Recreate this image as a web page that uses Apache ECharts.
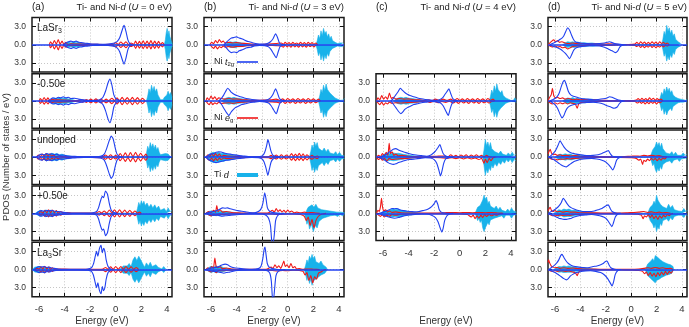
<!DOCTYPE html>
<html>
<head>
<meta charset="utf-8">
<script src="https://cdn.jsdelivr.net/npm/echarts@6/dist/echarts.min.js"></script>
<style>
  html, body { margin: 0; padding: 0; background: #fff; }
  #main { width: 689px; height: 327px; }
</style>
</head>
<body>
<div id="main"></div>
<script>
// energy grid / tick values
var xTicks = [-6, -4, -2, 0, 2, 4];
var yTicks = [-3, 0, 3];
var colU = ['0', '3', '4', '5'];
var colTags = ['(a)', '(b)', '(c)', '(d)'];

// ---- (a) U = 0 eV : spin up == spin down ----
var a1_t2g = [[-4.1,0],[-3.9,0.3],[-3.7,0.5],[-3.5,0.6],[-3.3,0.45],[-3.1,0.6],[-2.9,0.4],[-2.7,0.35],[-2.4,0.25],[-2.1,0.2],[-1.8,0.12],[-1.4,0.1],[-1.0,0.08],[-0.6,0.12],[-0.3,0.2],[-0.1,0.3],[0.1,0.5],[0.3,1.1],[0.5,2.4],[0.65,3.2],[0.8,2.2],[0.95,0.8],[1.1,0.2],[1.3,0]];
var a1_eg = [[-5.2,0],[-5.1,0.5],[-4.95,0.05],[-4.8,0.7],[-4.65,0.1],[-4.5,0.85],[-4.35,0.1],[-4.2,0.6],[-4.05,0.05],[-3.9,0.4],[-3.75,0.05],[-3.5,0.15],[-3.0,0.1],[-2.5,0.1],[-2.0,0.08],[-1.0,0.05],[-0.2,0.1],[0.0,0.35],[0.2,0.05],[0.4,0.45],[0.6,0.1],[0.8,0.5],[1.0,0.05],[1.2,0.3],[1.4,0.05],[1.55,0.6],[1.7,0.05],[1.85,0.55],[2.0,0.05],[2.15,0.65],[2.3,0.05],[2.45,0.6],[2.6,0.05],[2.75,0.7],[2.9,0.05],[3.05,0.6],[3.2,0.05],[3.35,0.55],[3.5,0.05],[3.65,0.35],[3.8,0]];
var a1_ti = [[-4.1,0],[-3.9,0.3],[-3.7,0.45],[-3.5,0.3],[-3.3,0.5],[-3.1,0.35],[-2.9,0.4],[-2.7,0.2],[-2.4,0.15],[-2.1,0.05],[-1.8,0],[3.8,0],[3.88,0.8],[3.95,2.0],[4.02,2.7],[4.09,1.6],[4.16,2.3],[4.23,1.4],[4.3,0.9],[4.37,0.4],[4.45,0.2]];

var a2_t2g = [[-5.3,0],[-5.1,0.3],[-4.9,0.5],[-4.7,0.4],[-4.5,0.6],[-4.3,0.5],[-4.1,0.7],[-3.9,0.5],[-3.7,0.6],[-3.5,0.4],[-3.2,0.45],[-2.9,0.3],[-2.6,0.2],[-2.3,0.1],[-1.9,0.08],[-1.5,0.1],[-1.2,0.25],[-1.0,0.6],[-0.8,1.6],[-0.6,3.0],[-0.45,3.6],[-0.3,2.6],[-0.15,1.0],[0.0,0.4],[0.2,0.15],[0.4,0]];
var a2_eg = [[-6.0,0],[-5.9,0.4],[-5.75,0.05],[-5.6,0.55],[-5.45,0.1],[-5.3,0.5],[-5.15,0.05],[-5.0,0.3],[-4.8,0.15],[-4.5,0.2],[-4.0,0.15],[-3.5,0.1],[-3.0,0.08],[-2.6,0.2],[-2.45,0.05],[-2.3,0.25],[-2.15,0.05],[-1.95,0.3],[-1.75,0.05],[-1.55,0.35],[-1.35,0.05],[-1.15,0.3],[-0.95,0.05],[-0.75,0.3],[-0.55,0.05],[-0.3,0.45],[-0.1,0.05],[0.1,0.5],[0.3,0.05],[0.5,0.6],[0.7,0.05],[0.9,0.55],[1.1,0.05],[1.3,0.6],[1.5,0.05],[1.7,0.55],[1.9,0.05],[2.1,0.45],[2.3,0]];
var a2_ti = [[-5.2,0],[-5.0,0.3],[-4.8,0.5],[-4.6,0.4],[-4.4,0.55],[-4.2,0.4],[-4.0,0.5],[-3.8,0.35],[-3.5,0.3],[-3.2,0.1],[-3.0,0],[2.4,0],[2.5,0.8],[2.6,2.0],[2.7,1.3],[2.8,2.6],[2.9,1.7],[3.0,2.4],[3.1,1.5],[3.2,2.0],[3.3,1.0],[3.4,0.6],[3.5,0.2],[3.6,0.5],[3.7,0.2],[3.8,0.6],[3.9,0.3],[4.0,1.0],[4.1,1.6],[4.2,1.0],[4.3,1.4],[4.4,0.6]];

var a3_t2g = [[-6.2,0],[-6.0,0.3],[-5.8,0.5],[-5.6,0.35],[-5.4,0.6],[-5.2,0.45],[-5.0,0.55],[-4.8,0.4],[-4.6,0.5],[-4.4,0.3],[-4.1,0.35],[-3.8,0.2],[-3.4,0.15],[-3.0,0.1],[-2.5,0.05],[-1.8,0.05],[-1.2,0.15],[-0.9,0.5],[-0.7,1.5],[-0.5,2.8],[-0.35,3.5],[-0.2,3.0],[-0.05,1.6],[0.1,0.5],[0.3,0.1],[0.5,0]];
var a3_eg = [[-6.2,0],[-6.05,0.35],[-5.9,0.05],[-5.75,0.5],[-5.6,0.1],[-5.45,0.6],[-5.3,0.1],[-5.15,0.55],[-5.0,0.1],[-4.85,0.4],[-4.7,0.05],[-4.5,0.2],[-4.2,0.1],[-3.5,0.05],[-2.0,0.05],[-1.0,0.1],[-0.8,0.35],[-0.6,0.05],[-0.4,0.4],[-0.2,0.05],[0.0,0.3],[0.15,0.05],[0.35,0.6],[0.55,0.05],[0.75,0.7],[0.95,0.05],[1.15,0.75],[1.35,0.05],[1.55,0.8],[1.75,0.05],[1.95,0.65],[2.15,0.05],[2.35,0.5],[2.5,0]];
var a3_ti = [[-5.8,0],[-5.6,0.4],[-5.4,0.6],[-5.2,0.4],[-5.0,0.65],[-4.8,0.5],[-4.6,0.6],[-4.4,0.4],[-4.2,0.5],[-4.0,0.3],[-3.7,0.25],[-3.4,0.1],[-3.1,0],[2.3,0],[2.4,0.6],[2.5,1.8],[2.6,1.2],[2.7,2.4],[2.8,1.6],[2.9,2.2],[3.0,1.4],[3.1,2.0],[3.2,1.2],[3.3,1.6],[3.4,0.8],[3.5,0.4],[3.6,0.2],[3.7,0.5],[3.8,0.2],[3.9,0.6],[4.0,0.3],[4.1,0.5],[4.2,0.2],[4.3,0]];

var a4_t2g = [[-6.2,0],[-6.0,0.3],[-5.8,0.45],[-5.6,0.35],[-5.4,0.5],[-5.2,0.4],[-5.0,0.5],[-4.8,0.35],[-4.5,0.3],[-4.2,0.2],[-3.8,0.1],[-3.3,0.05],[-2.5,0.05],[-1.8,0.1],[-1.5,0.3],[-1.35,0.9],[-1.2,2.0],[-1.05,2.8],[-0.95,2.6],[-0.8,3.7],[-0.65,3.2],[-0.5,1.6],[-0.35,0.5],[-0.15,0.15],[0.1,0]];
var a4_eg = [[-6.0,0],[-5.85,0.3],[-5.7,0.05],[-5.55,0.5],[-5.4,0.1],[-5.25,0.6],[-5.1,0.1],[-4.95,0.55],[-4.8,0.1],[-4.65,0.45],[-4.5,0.05],[-4.3,0.3],[-4.1,0.05],[-3.8,0.15],[-3.4,0.05],[-2.5,0.05],[-1.5,0.1],[-1.3,0.3],[-1.1,0.05],[-0.9,0.4],[-0.7,0.05],[-0.5,0.55],[-0.3,0.05],[-0.1,0.6],[0.1,0.05],[0.3,0.6],[0.5,0.05],[0.7,0.55],[0.9,0.05],[1.1,0.5],[1.3,0.05],[1.5,0.4],[1.7,0.05],[1.85,0.2],[2.0,0]];
var a4_ti = [[-6.3,0],[-6.1,0.3],[-5.9,0.5],[-5.7,0.3],[-5.5,0.55],[-5.3,0.35],[-5.1,0.5],[-4.9,0.3],[-4.6,0.2],[-4.3,0.1],[-4.0,0],[1.6,0],[1.7,0.8],[1.8,1.8],[1.9,1.2],[2.0,2.1],[2.1,1.5],[2.2,2.0],[2.3,1.3],[2.45,1.7],[2.6,1.0],[2.75,1.5],[2.9,0.9],[3.05,1.4],[3.2,0.8],[3.35,1.2],[3.5,0.5],[3.65,0.3],[3.8,0.8],[3.95,0.3],[4.1,0.9],[4.25,0.3],[4.4,0.5]];

var a5_t2g = [[-6.4,0],[-6.2,0.3],[-6.0,0.5],[-5.8,0.4],[-5.6,0.5],[-5.4,0.35],[-5.2,0.4],[-5.0,0.25],[-4.8,0.2],[-4.5,0.1],[-4.0,0.05],[-3.0,0.05],[-2.2,0.1],[-1.9,0.3],[-1.75,0.9],[-1.6,2.2],[-1.5,3.0],[-1.4,2.2],[-1.28,3.4],[-1.15,4.0],[-1.05,2.8],[-0.95,3.5],[-0.85,3.0],[-0.75,1.6],[-0.6,0.5],[-0.4,0.1],[-0.2,0]];
var a5_eg = [[-6.3,0],[-6.15,0.2],[-6.0,0.05],[-5.85,0.45],[-5.7,0.1],[-5.55,0.55],[-5.4,0.1],[-5.25,0.4],[-5.1,0.05],[-4.95,0.3],[-4.8,0.05],[-4.5,0.1],[-3.5,0.05],[-2.0,0.05],[-1.0,0.1],[-0.8,0.35],[-0.6,0.05],[-0.4,0.45],[-0.2,0.05],[0.0,0.5],[0.2,0.05],[0.4,0.5],[0.6,0.05],[0.8,0.5],[1.0,0.05],[1.2,0.45],[1.4,0.05],[1.6,0.35],[1.8,0]];
var a5_ti = [[-6.5,0],[-6.35,0.4],[-6.2,0.7],[-6.05,0.5],[-5.9,0.7],[-5.75,0.4],[-5.6,0.55],[-5.45,0.3],[-5.2,0.3],[-5.0,0.15],[-4.8,0],[0.3,0],[0.45,0.3],[0.6,0.6],[0.75,0.9],[0.9,0.6],[1.05,1.0],[1.2,0.5],[1.35,1.6],[1.5,2.1],[1.65,1.5],[1.8,2.2],[1.95,1.6],[2.1,1.0],[2.25,0.4],[2.4,1.1],[2.55,0.6],[2.7,1.2],[2.85,0.5],[3.0,0.2],[3.15,0.8],[3.3,0.4],[3.45,0.7],[3.6,0.1],[3.75,0.5],[3.9,0.1],[4.0,0]];

// ---- (b) U = 3 eV ----
var b1_t2g_up = [[-5.0,0],[-4.8,0.4],[-4.6,0.8],[-4.4,1.1],[-4.2,1.2],[-4.0,1.3],[-3.8,1.1],[-3.6,1.0],[-3.4,0.8],[-3.2,0.6],[-3.0,0.5],[-2.7,0.3],[-2.4,0.15],[-2.0,0.1],[-1.6,0.2],[-1.35,0.5],[-1.15,1.0],[-0.95,1.8],[-0.8,1.2],[-0.65,0.3],[-0.45,0.05],[-0.2,0]];
var b1_t2g_dn = [[-5.0,0],[-4.8,0.5],[-4.6,1.0],[-4.4,1.3],[-4.2,1.2],[-4.0,1.3],[-3.8,1.0],[-3.5,0.8],[-3.2,0.5],[-2.9,0.4],[-2.6,0.2],[-2.2,0.1],[-1.8,0.15],[-1.5,0.35],[-1.3,0.8],[-1.1,1.5],[-0.9,2.15],[-0.75,1.2],[-0.6,0.3],[-0.4,0.05],[-0.2,0]];
var b1_eg_up = [[-6.1,0],[-5.95,0.4],[-5.8,0.2],[-5.65,0.7],[-5.5,0.3],[-5.35,0.85],[-5.2,0.4],[-5.05,0.6],[-4.9,0.3],[-4.6,0.4],[-4.3,0.3],[-4.0,0.35],[-3.6,0.25],[-3.2,0.2],[-2.8,0.1],[-2.2,0.05],[-1.5,0.1],[-0.9,0.2],[-0.5,0.3],[-0.35,0.05],[-0.2,0.4],[-0.05,0.1],[0.1,0.35],[0.25,0.05],[0.4,0.4],[0.55,0.1],[0.7,0.3],[0.85,0.05],[1.0,0.4],[1.15,0.1],[1.3,0.35],[1.45,0.05],[1.6,0.4],[1.75,0.1],[1.9,0.35],[2.05,0.05],[2.2,0.3],[2.35,0]];
var b1_eg_dn = [[-6.1,0],[-5.95,0.3],[-5.8,0.6],[-5.65,0.2],[-5.5,0.7],[-5.35,0.3],[-5.2,0.5],[-5.05,0.2],[-4.9,0.4],[-4.6,0.3],[-4.3,0.4],[-4.0,0.3],[-3.6,0.3],[-3.2,0.15],[-2.8,0.1],[-2.2,0.05],[-1.5,0.1],[-0.9,0.15],[-0.5,0.2],[-0.35,0.4],[-0.2,0.05],[-0.05,0.35],[0.1,0.1],[0.25,0.4],[0.4,0.05],[0.55,0.35],[0.7,0.1],[0.85,0.4],[1.0,0.05],[1.15,0.35],[1.3,0.1],[1.45,0.4],[1.6,0.05],[1.75,0.3],[1.9,0.1],[2.05,0.35],[2.2,0.05],[2.35,0]];
var b1_ti_up = [[-4.9,0],[-4.7,0.3],[-4.5,0.5],[-4.3,0.4],[-4.1,0.5],[-3.9,0.4],[-3.6,0.3],[-3.3,0.2],[-3.0,0.1],[-2.7,0],[2.2,0],[2.3,0.6],[2.4,1.6],[2.5,1.0],[2.6,2.3],[2.7,1.5],[2.8,2.7],[2.9,1.8],[3.0,2.2],[3.1,1.3],[3.2,1.8],[3.3,1.0],[3.4,1.4],[3.5,0.7],[3.6,1.0],[3.7,0.4],[3.8,0.6],[3.9,0.2],[4.0,0.05],[4.1,0.3],[4.2,0.05],[4.3,0.3],[4.4,0.1]];
var b1_ti_dn = [[-4.9,0],[-4.7,0.25],[-4.5,0.45],[-4.3,0.4],[-4.1,0.5],[-3.9,0.35],[-3.6,0.3],[-3.3,0.2],[-3.0,0.1],[-2.7,0],[2.2,0],[2.3,0.7],[2.4,1.8],[2.5,1.2],[2.6,2.5],[2.7,1.6],[2.8,2.7],[2.9,1.7],[3.0,2.3],[3.1,1.4],[3.2,1.9],[3.3,1.1],[3.4,1.3],[3.5,0.6],[3.6,0.9],[3.7,0.4],[3.8,0.5],[3.9,0.2],[4.0,0.05],[4.1,0.3],[4.2,0.05],[4.3,0.3],[4.4,0.1]];

var b2_t2g_up = [[-5.4,0],[-5.2,0.4],[-5.0,1.0],[-4.85,1.6],[-4.7,2.1],[-4.55,1.8],[-4.4,1.4],[-4.2,1.1],[-4.0,0.9],[-3.7,0.7],[-3.4,0.5],[-3.1,0.35],[-2.8,0.25],[-2.4,0.15],[-2.0,0.1],[-1.6,0.2],[-1.35,0.5],[-1.15,1.1],[-0.95,2.0],[-0.8,1.3],[-0.65,0.4],[-0.45,0.1],[-0.2,0]];
var b2_t2g_dn = [[-5.4,0],[-5.2,0.5],[-5.0,1.2],[-4.8,1.9],[-4.6,2.4],[-4.45,1.9],[-4.3,1.5],[-4.1,1.1],[-3.9,0.9],[-3.6,0.6],[-3.3,0.45],[-3.0,0.3],[-2.6,0.2],[-2.2,0.1],[-1.8,0.15],[-1.5,0.35],[-1.3,0.8],[-1.1,1.5],[-0.9,2.1],[-0.75,1.2],[-0.6,0.3],[-0.4,0.05],[-0.2,0]];
var b2_eg_up = [[-6.4,0],[-6.3,0.5],[-6.15,0.2],[-6.0,0.8],[-5.85,0.3],[-5.7,0.7],[-5.55,0.2],[-5.4,0.5],[-5.2,0.4],[-4.9,0.3],[-4.6,0.45],[-4.3,0.3],[-4.0,0.35],[-3.6,0.2],[-3.2,0.2],[-2.8,0.1],[-2.3,0.1],[-1.8,0.15],[-1.3,0.2],[-0.9,0.3],[-0.6,0.1],[-0.4,0.35],[-0.2,0.05],[0.0,0.4],[0.2,0.1],[0.4,0.35],[0.6,0.05],[0.8,0.4],[1.0,0.1],[1.2,0.35],[1.4,0.05],[1.6,0.4],[1.8,0.1],[2.0,0.35],[2.2,0.05],[2.4,0.3],[2.55,0]];
var b2_eg_dn = [[-6.4,0],[-6.3,0.3],[-6.15,0.6],[-6.0,0.2],[-5.85,0.6],[-5.7,0.3],[-5.55,0.5],[-5.4,0.2],[-5.2,0.4],[-4.9,0.35],[-4.6,0.3],[-4.3,0.4],[-4.0,0.3],[-3.6,0.2],[-3.2,0.15],[-2.8,0.1],[-2.3,0.05],[-1.8,0.1],[-1.3,0.15],[-0.9,0.2],[-0.6,0.35],[-0.4,0.05],[-0.2,0.4],[0.0,0.1],[0.2,0.35],[0.4,0.05],[0.6,0.4],[0.8,0.1],[1.0,0.35],[1.2,0.05],[1.4,0.4],[1.6,0.1],[1.8,0.35],[2.0,0.05],[2.2,0.3],[2.4,0.05],[2.55,0]];
var b2_ti_up = [[-5.2,0],[-5.0,0.3],[-4.8,0.5],[-4.6,0.6],[-4.4,0.5],[-4.2,0.6],[-4.0,0.45],[-3.7,0.4],[-3.4,0.3],[-3.1,0.2],[-2.8,0.1],[-2.5,0],[2.4,0],[2.5,0.8],[2.6,1.9],[2.7,1.3],[2.8,2.6],[2.9,1.7],[3.0,2.8],[3.1,1.9],[3.2,2.2],[3.3,1.3],[3.4,1.6],[3.5,0.9],[3.6,1.1],[3.7,0.5],[3.8,0.7],[3.9,0.3],[4.0,0.4],[4.1,0.1],[4.2,0.4],[4.3,0.15],[4.45,0.4]];
var b2_ti_dn = [[-5.2,0],[-5.0,0.3],[-4.8,0.45],[-4.6,0.55],[-4.4,0.45],[-4.2,0.55],[-3.9,0.4],[-3.6,0.35],[-3.3,0.25],[-3.0,0.15],[-2.7,0],[2.4,0],[2.5,0.9],[2.6,2.0],[2.7,1.4],[2.8,2.7],[2.9,1.8],[3.0,2.6],[3.1,1.7],[3.2,2.0],[3.3,1.2],[3.4,1.5],[3.5,0.8],[3.6,1.0],[3.7,0.4],[3.8,0.6],[3.9,0.2],[4.0,0.3],[4.1,0.1],[4.2,0.3],[4.3,0.1],[4.45,0.3]];

var b3_t2g_up = [[-6.4,0],[-6.2,0.3],[-6.0,0.5],[-5.8,0.6],[-5.6,0.8],[-5.4,0.9],[-5.2,0.85],[-5.0,0.7],[-4.8,0.6],[-4.5,0.5],[-4.2,0.4],[-3.9,0.3],[-3.5,0.2],[-3.1,0.1],[-2.6,0.05],[-2.2,0.1],[-1.95,0.3],[-1.8,0.8],[-1.65,1.9],[-1.55,2.9],[-1.45,2.2],[-1.3,0.9],[-1.15,0.3],[-0.9,0.1],[-0.6,0]];
var b3_t2g_dn = [[-6.4,0],[-6.2,0.4],[-6.0,0.6],[-5.8,0.8],[-5.6,0.9],[-5.4,0.8],[-5.2,0.7],[-5.0,0.6],[-4.7,0.5],[-4.4,0.4],[-4.1,0.3],[-3.7,0.2],[-3.3,0.1],[-2.8,0.05],[-2.3,0.1],[-2.0,0.3],[-1.85,0.8],[-1.7,1.8],[-1.55,3.0],[-1.45,2.1],[-1.3,0.8],[-1.15,0.3],[-0.9,0.1],[-0.6,0]];
var b3_eg_up = [[-6.4,0],[-6.25,0.4],[-6.1,0.1],[-5.95,0.55],[-5.8,0.15],[-5.65,0.6],[-5.5,0.2],[-5.35,0.5],[-5.2,0.1],[-5.0,0.3],[-4.7,0.2],[-4.3,0.15],[-3.8,0.1],[-3.0,0.05],[-2.2,0.05],[-1.5,0.1],[-1.3,0.3],[-1.1,0.05],[-0.9,0.35],[-0.7,0.05],[-0.5,0.4],[-0.3,0.05],[-0.1,0.35],[0.1,0.05],[0.3,0.6],[0.45,0.1],[0.6,0.5],[0.75,0.1],[0.9,0.65],[1.05,0.1],[1.2,0.55],[1.35,0.05],[1.5,0.4],[1.7,0.05],[1.9,0.3],[2.1,0.05],[2.3,0.2],[2.45,0]];
var b3_eg_dn = [[-6.4,0],[-6.25,0.3],[-6.1,0.55],[-5.95,0.15],[-5.8,0.6],[-5.65,0.2],[-5.5,0.55],[-5.35,0.15],[-5.2,0.4],[-5.0,0.15],[-4.7,0.25],[-4.3,0.15],[-3.8,0.1],[-3.0,0.05],[-2.2,0.05],[-1.5,0.1],[-1.3,0.25],[-1.1,0.05],[-0.9,0.3],[-0.7,0.05],[-0.5,0.35],[-0.3,0.05],[-0.1,0.3],[0.1,0.05],[0.3,0.5],[0.45,0.1],[0.6,0.6],[0.75,0.15],[0.9,0.5],[1.05,0.1],[1.2,0.6],[1.35,0.1],[1.5,0.45],[1.7,0.1],[1.9,0.35],[2.1,0.05],[2.3,0.25],[2.45,0]];
var b3_ti_up = [[-6.4,0],[-6.2,0.4],[-6.0,0.7],[-5.8,0.8],[-5.6,0.65],[-5.4,0.8],[-5.2,0.6],[-5.0,0.7],[-4.8,0.5],[-4.5,0.45],[-4.2,0.3],[-3.9,0.2],[-3.5,0.1],[-3.1,0],[1.7,0],[1.8,0.9],[1.9,2.0],[2.0,1.4],[2.1,2.5],[2.2,1.8],[2.3,2.4],[2.4,1.5],[2.55,1.7],[2.7,1.0],[2.85,1.5],[3.0,0.9],[3.15,1.3],[3.3,0.7],[3.45,1.0],[3.6,0.5],[3.75,0.9],[3.9,0.4],[4.05,0.8],[4.2,0.3],[4.35,0.6],[4.45,0.2]];
var b3_ti_dn = [[-6.4,0],[-6.2,0.45],[-6.0,0.75],[-5.8,0.9],[-5.6,0.7],[-5.4,0.85],[-5.2,0.65],[-5.0,0.7],[-4.8,0.5],[-4.5,0.45],[-4.2,0.3],[-3.9,0.2],[-3.5,0.1],[-3.1,0],[1.7,0],[1.8,1.0],[1.9,2.2],[2.0,1.5],[2.1,2.5],[2.2,1.7],[2.3,2.2],[2.4,1.4],[2.55,1.6],[2.7,0.9],[2.85,1.4],[3.0,0.8],[3.15,1.2],[3.3,0.6],[3.45,0.9],[3.6,0.4],[3.75,0.8],[3.9,0.3],[4.05,0.7],[4.2,0.3],[4.35,0.5],[4.45,0.2]];

var b4_t2g_up = [[-6.4,0],[-6.1,0.2],[-5.8,0.3],[-5.5,0.5],[-5.3,0.7],[-5.1,0.9],[-4.9,0.85],[-4.7,0.9],[-4.5,0.75],[-4.2,0.6],[-3.9,0.45],[-3.6,0.35],[-3.3,0.25],[-3.0,0.15],[-2.6,0.1],[-2.3,0.3],[-2.1,0.7],[-1.95,1.6],[-1.8,3.4],[-1.7,2.4],[-1.6,1.0],[-1.45,0.4],[-1.3,0.2],[-1.0,0.1],[-0.6,0]];
var b4_t2g_dn = [[-6.4,0],[-6.1,0.2],[-5.8,0.35],[-5.5,0.3],[-5.2,0.45],[-4.9,0.4],[-4.6,0.35],[-4.2,0.25],[-3.8,0.2],[-3.3,0.1],[-2.6,0.05],[-2.0,0.1],[-1.7,0.3],[-1.5,0.8],[-1.35,2.0],[-1.25,4.6],[-1.15,5.0],[-1.05,3.5],[-0.95,1.2],[-0.8,0.4],[-0.6,0.1],[-0.3,0]];
var b4_eg_up = [[-6.4,0],[-6.2,0.3],[-6.0,0.1],[-5.8,0.5],[-5.65,0.2],[-5.55,1.3],[-5.45,0.3],[-5.3,0.6],[-5.1,0.2],[-4.8,0.3],[-4.4,0.15],[-3.9,0.1],[-3.0,0.05],[-2.2,0.05],[-1.5,0.1],[-1.2,0.5],[-1.05,0.2],[-0.9,0.8],[-0.75,0.3],[-0.6,0.6],[-0.45,0.2],[-0.3,0.5],[-0.15,0.15],[0.0,0.55],[0.15,0.2],[0.3,0.4],[0.5,0.1],[0.7,0.2],[1.0,0.1],[1.3,0.2],[1.6,0.1],[1.9,0.15],[2.2,0.05],[2.5,0]];
var b4_eg_dn = [[-6.4,0],[-6.2,0.2],[-6.0,0.4],[-5.8,0.15],[-5.6,0.3],[-5.4,0.1],[-5.1,0.2],[-4.6,0.1],[-3.5,0.05],[-2.0,0.05],[-1.2,0.1],[-0.8,0.2],[-0.4,0.15],[0.0,0.1],[0.5,0.1],[1.0,0.2],[1.3,0.5],[1.45,1.2],[1.6,0.6],[1.75,2.0],[1.9,1.0],[2.05,2.4],[2.2,1.2],[2.35,0.6],[2.5,0.3],[2.7,0.1],[3.0,0]];
var b4_ti_up = [[-6.4,0],[-6.2,0.3],[-6.0,0.4],[-5.8,0.3],[-5.6,0.45],[-5.4,0.3],[-5.1,0.35],[-4.8,0.25],[-4.4,0.2],[-4.0,0.1],[-3.6,0],[1.4,0],[1.5,0.6],[1.6,1.0],[1.75,0.7],[1.9,1.4],[2.05,1.0],[2.2,1.5],[2.35,0.9],[2.5,1.1],[2.65,0.6],[2.8,0.9],[2.95,0.5],[3.1,0.7],[3.25,0.4],[3.4,0.7],[3.55,0.3],[3.7,0.6],[3.85,0.2],[4.0,0.5],[4.15,0.2],[4.3,0.4],[4.45,0.1]];
var b4_ti_dn = [[-6.4,0],[-6.2,0.3],[-6.0,0.45],[-5.8,0.3],[-5.6,0.4],[-5.3,0.3],[-5.0,0.25],[-4.6,0.15],[-4.2,0.1],[-3.8,0],[1.3,0],[1.4,0.8],[1.5,1.8],[1.6,1.2],[1.7,2.6],[1.85,1.8],[2.0,3.0],[2.15,2.0],[2.3,2.4],[2.45,1.3],[2.6,1.5],[2.75,0.8],[2.9,1.1],[3.05,0.6],[3.2,0.9],[3.35,0.4],[3.5,0.7],[3.7,0.3],[3.9,0.5],[4.1,0.2],[4.3,0.4],[4.45,0.1]];

var b5_t2g_up = [[-6.4,0],[-6.1,0.2],[-5.8,0.3],[-5.5,0.4],[-5.3,0.6],[-5.1,0.8],[-4.9,0.9],[-4.7,0.8],[-4.5,0.5],[-4.2,0.3],[-3.8,0.2],[-3.3,0.1],[-2.8,0.05],[-2.3,0.15],[-2.1,0.5],[-1.95,1.8],[-1.85,3.3],[-1.78,3.7],[-1.7,2.5],[-1.6,1.0],[-1.45,0.4],[-1.2,0.15],[-0.9,0.05],[-0.5,0]];
var b5_t2g_dn = [[-6.4,0],[-6.1,0.2],[-5.8,0.3],[-5.5,0.35],[-5.2,0.5],[-5.0,0.6],[-4.8,0.5],[-4.5,0.4],[-4.1,0.2],[-3.6,0.1],[-3.0,0.05],[-2.0,0.05],[-1.6,0.2],[-1.4,0.6],[-1.28,2.0],[-1.2,4.6],[-1.12,5.0],[-1.02,3.0],[-0.92,1.0],[-0.75,0.3],[-0.5,0.1],[-0.2,0]];
var b5_eg_up = [[-6.4,0],[-6.25,0.3],[-6.1,0.1],[-5.95,0.5],[-5.82,0.2],[-5.7,1.9],[-5.6,0.5],[-5.45,0.3],[-5.3,0.5],[-5.1,0.15],[-4.8,0.25],[-4.4,0.1],[-3.5,0.05],[-2.5,0.05],[-1.6,0.1],[-1.3,0.4],[-1.15,0.2],[-1.0,0.8],[-0.85,0.3],[-0.7,0.6],[-0.55,0.2],[-0.4,0.9],[-0.3,1.4],[-0.2,0.5],[-0.05,0.8],[0.1,0.3],[0.25,1.0],[0.4,0.3],[0.55,0.5],[0.7,0.1],[0.9,0.15],[1.2,0.05],[1.6,0.1],[2.0,0.05],[2.5,0]];
var b5_eg_dn = [[-6.4,0],[-6.2,0.2],[-6.0,0.4],[-5.8,0.2],[-5.6,0.5],[-5.4,0.15],[-5.1,0.2],[-4.6,0.1],[-3.5,0.05],[-2.0,0.05],[-1.2,0.15],[-0.8,0.25],[-0.4,0.15],[0.0,0.2],[0.4,0.1],[0.9,0.15],[1.2,0.3],[1.35,0.9],[1.5,0.5],[1.65,1.8],[1.8,1.0],[1.95,2.2],[2.1,1.2],[2.25,1.6],[2.4,0.6],[2.6,0.4],[2.8,0.1],[3.0,0]];
var b5_ti_up = [[-6.4,0],[-6.2,0.3],[-6.0,0.55],[-5.8,0.4],[-5.6,0.6],[-5.4,0.4],[-5.2,0.5],[-5.0,0.3],[-4.7,0.2],[-4.4,0.1],[-4.0,0],[1.3,0],[1.4,0.7],[1.5,1.6],[1.6,1.1],[1.7,2.2],[1.8,1.7],[1.9,2.5],[2.0,1.8],[2.1,2.2],[2.2,1.3],[2.3,1.6],[2.45,1.0],[2.6,1.4],[2.75,0.8],[2.9,1.0],[3.0,0.4],[3.1,0]];
var b5_ti_dn = [[-6.4,0],[-6.2,0.3],[-6.0,0.5],[-5.8,0.35],[-5.6,0.55],[-5.4,0.35],[-5.1,0.35],[-4.8,0.2],[-4.4,0.1],[-4.0,0],[1.3,0],[1.4,0.8],[1.5,1.8],[1.6,1.2],[1.7,2.3],[1.8,1.6],[1.9,2.6],[2.0,1.9],[2.15,2.2],[2.3,1.4],[2.45,1.6],[2.6,0.9],[2.75,1.2],[2.9,0.6],[3.0,0.3],[3.1,0]];

// ---- (c) U = 4 eV ----
var c1_t2g_up = [[-5.4,0],[-5.2,0.4],[-5.0,1.0],[-4.8,1.6],[-4.65,2.1],[-4.5,1.8],[-4.3,1.4],[-4.1,1.1],[-3.9,0.9],[-3.6,0.7],[-3.3,0.5],[-3.0,0.35],[-2.7,0.25],[-2.3,0.15],[-1.9,0.1],[-1.6,0.2],[-1.35,0.5],[-1.15,1.1],[-0.95,1.7],[-0.85,2.0],[-0.7,1.2],[-0.55,0.4],[-0.35,0.1],[-0.1,0]];
var c1_t2g_dn = [[-5.4,0],[-5.2,0.5],[-5.0,1.1],[-4.8,1.7],[-4.6,2.1],[-4.45,1.8],[-4.3,1.4],[-4.1,1.1],[-3.9,0.9],[-3.6,0.6],[-3.3,0.45],[-3.0,0.3],[-2.6,0.2],[-2.2,0.1],[-1.8,0.15],[-1.5,0.35],[-1.3,0.8],[-1.1,1.6],[-0.9,2.4],[-0.75,1.3],[-0.6,0.4],[-0.4,0.1],[-0.2,0]];
var c1_eg_up = [[-6.5,0],[-6.4,0.5],[-6.25,0.2],[-6.1,0.9],[-5.95,0.3],[-5.8,0.7],[-5.65,0.3],[-5.5,1.3],[-5.35,0.4],[-5.2,0.6],[-5.0,0.3],[-4.7,0.4],[-4.4,0.3],[-4.0,0.35],[-3.6,0.2],[-3.2,0.2],[-2.8,0.1],[-2.4,0.2],[-2.2,0.05],[-1.9,0.3],[-1.6,0.1],[-1.3,0.3],[-1.0,0.1],[-0.7,0.3],[-0.45,0.05],[-0.2,0.4],[0.0,0.1],[0.2,0.35],[0.4,0.05],[0.6,0.4],[0.8,0.1],[1.0,0.35],[1.2,0.05],[1.4,0.4],[1.6,0.1],[1.8,0.35],[2.0,0.05],[2.2,0.4],[2.4,0.1],[2.6,0.3],[2.75,0]];
var c1_eg_dn = [[-6.5,0],[-6.4,0.3],[-6.25,0.6],[-6.1,0.2],[-5.95,0.7],[-5.8,0.3],[-5.65,0.5],[-5.5,0.2],[-5.3,0.4],[-5.0,0.3],[-4.7,0.35],[-4.3,0.3],[-3.9,0.25],[-3.5,0.2],[-3.0,0.1],[-2.6,0.05],[-2.3,0.25],[-2.0,0.05],[-1.7,0.3],[-1.4,0.1],[-1.1,0.25],[-0.8,0.05],[-0.5,0.35],[-0.3,0.1],[-0.1,0.4],[0.1,0.05],[0.3,0.35],[0.5,0.1],[0.7,0.4],[0.9,0.05],[1.1,0.35],[1.3,0.1],[1.5,0.4],[1.7,0.05],[1.9,0.3],[2.1,0.1],[2.3,0.35],[2.5,0.05],[2.7,0]];
var c1_ti_up = [[-5.2,0],[-5.0,0.3],[-4.8,0.5],[-4.6,0.6],[-4.4,0.5],[-4.2,0.6],[-4.0,0.45],[-3.7,0.4],[-3.4,0.3],[-3.1,0.2],[-2.8,0.1],[-2.5,0],[2.3,0],[2.4,0.7],[2.5,1.8],[2.6,1.2],[2.7,2.5],[2.8,1.6],[2.9,2.8],[3.0,1.9],[3.1,2.2],[3.2,1.3],[3.3,1.7],[3.4,0.9],[3.5,1.2],[3.6,0.5],[3.7,0.8],[3.8,0.3],[3.9,0.5],[4.0,0.1],[4.1,0.4],[4.2,0.1],[4.3,0.5],[4.45,0.2]];
var c1_ti_dn = [[-5.2,0],[-5.0,0.3],[-4.8,0.45],[-4.6,0.55],[-4.4,0.45],[-4.2,0.55],[-3.9,0.4],[-3.6,0.35],[-3.3,0.25],[-3.0,0.15],[-2.7,0],[2.3,0],[2.4,0.8],[2.5,1.9],[2.6,1.3],[2.7,2.6],[2.8,1.7],[2.9,2.7],[3.0,1.8],[3.1,2.1],[3.2,1.2],[3.3,1.5],[3.4,0.8],[3.5,1.0],[3.6,0.4],[3.7,0.6],[3.8,0.2],[3.9,0.4],[4.0,0.1],[4.1,0.3],[4.2,0.1],[4.3,0.4],[4.45,0.2]];

var c2_t2g_up = [[-6.3,0],[-6.0,0.2],[-5.8,0.4],[-5.6,0.7],[-5.4,1.0],[-5.2,1.3],[-5.0,1.4],[-4.8,1.2],[-4.6,1.0],[-4.3,0.8],[-4.0,0.6],[-3.7,0.45],[-3.4,0.35],[-3.0,0.25],[-2.6,0.15],[-2.3,0.3],[-2.1,0.6],[-1.9,1.0],[-1.7,1.6],[-1.55,2.1],[-1.45,1.5],[-1.3,0.6],[-1.1,0.2],[-0.8,0.05],[-0.5,0]];
var c2_t2g_dn = [[-6.3,0],[-6.0,0.3],[-5.8,0.6],[-5.6,0.9],[-5.4,1.1],[-5.2,1.2],[-5.0,1.1],[-4.8,0.9],[-4.5,0.7],[-4.2,0.5],[-3.9,0.4],[-3.5,0.3],[-3.1,0.2],[-2.7,0.1],[-2.3,0.15],[-2.0,0.4],[-1.8,1.0],[-1.65,2.0],[-1.5,3.1],[-1.4,2.4],[-1.25,1.0],[-1.1,0.3],[-0.8,0.05],[-0.5,0]];
var c2_eg_up = [[-6.5,0],[-6.35,0.3],[-6.2,0.1],[-6.05,0.6],[-5.9,0.2],[-5.75,0.8],[-5.62,0.3],[-5.52,2.3],[-5.42,0.6],[-5.3,0.9],[-5.15,0.3],[-5.0,0.5],[-4.8,0.2],[-4.5,0.3],[-4.1,0.15],[-3.6,0.1],[-3.0,0.05],[-2.4,0.1],[-1.8,0.15],[-1.2,0.2],[-0.9,0.05],[-0.7,0.4],[-0.5,0.1],[-0.3,0.3],[-0.1,0.05],[0.1,0.35],[0.3,0.1],[0.5,0.4],[0.7,0.05],[0.9,0.35],[1.1,0.1],[1.3,0.4],[1.5,0.1],[1.7,0.3],[1.9,0.05],[2.1,0.3],[2.3,0.05],[2.5,0]];
var c2_eg_dn = [[-6.5,0],[-6.35,0.4],[-6.2,0.15],[-6.05,0.5],[-5.9,0.2],[-5.7,0.6],[-5.5,0.2],[-5.3,0.4],[-5.0,0.3],[-4.6,0.25],[-4.2,0.2],[-3.7,0.1],[-3.0,0.05],[-2.2,0.05],[-1.5,0.1],[-1.0,0.2],[-0.6,0.1],[-0.3,0.25],[0.0,0.1],[0.3,0.3],[0.6,0.1],[0.9,0.3],[1.2,0.15],[1.5,0.4],[1.7,0.2],[1.9,1.0],[2.0,0.3],[2.15,0.9],[2.3,0.2],[2.45,0.6],[2.6,0.1],[2.8,0]];
var c2_ti_up = [[-6.2,0],[-6.0,0.4],[-5.8,0.6],[-5.6,0.7],[-5.4,0.55],[-5.2,0.7],[-5.0,0.6],[-4.8,0.65],[-4.5,0.5],[-4.2,0.4],[-3.9,0.3],[-3.5,0.2],[-3.1,0.1],[-2.8,0],[1.8,0],[1.9,1.2],[2.0,2.9],[2.1,1.9],[2.2,2.5],[2.3,1.6],[2.4,2.4],[2.5,1.4],[2.6,1.7],[2.75,0.9],[2.9,1.2],[3.05,0.6],[3.2,1.0],[3.35,0.5],[3.5,0.8],[3.65,0.3],[3.8,0.7],[3.95,0.3],[4.1,0.8],[4.25,0.3],[4.4,0.5]];
var c2_ti_dn = [[-6.2,0],[-6.0,0.3],[-5.8,0.5],[-5.6,0.6],[-5.4,0.5],[-5.2,0.6],[-4.9,0.5],[-4.6,0.4],[-4.3,0.3],[-3.9,0.2],[-3.5,0.1],[-3.1,0],[1.8,0],[1.9,1.4],[2.0,3.0],[2.1,2.0],[2.2,2.6],[2.3,1.7],[2.4,2.2],[2.5,1.3],[2.6,1.8],[2.75,1.0],[2.9,1.5],[3.05,0.8],[3.2,1.2],[3.35,0.6],[3.5,1.0],[3.65,0.4],[3.8,0.8],[3.95,0.3],[4.1,0.9],[4.25,0.4],[4.4,0.6]];

var c3_t2g_up = [[-6.3,0],[-6.0,0.2],[-5.7,0.4],[-5.5,0.6],[-5.3,0.8],[-5.1,0.75],[-4.9,0.8],[-4.7,0.6],[-4.4,0.45],[-4.1,0.35],[-3.8,0.3],[-3.5,0.25],[-3.2,0.3],[-2.9,0.45],[-2.6,0.6],[-2.4,0.8],[-2.2,1.1],[-2.0,1.6],[-1.85,2.1],[-1.72,1.5],[-1.6,0.6],[-1.45,0.2],[-1.2,0.05],[-0.8,0]];
var c3_t2g_dn = [[-6.3,0],[-6.0,0.3],[-5.7,0.5],[-5.4,0.7],[-5.1,0.8],[-4.8,0.7],[-4.5,0.5],[-4.2,0.35],[-3.8,0.25],[-3.4,0.15],[-3.0,0.1],[-2.6,0.1],[-2.2,0.3],[-1.9,0.7],[-1.7,1.4],[-1.55,2.3],[-1.4,3.1],[-1.3,2.5],[-1.18,1.2],[-1.0,0.4],[-0.8,0.1],[-0.5,0]];
var c3_eg_up = [[-6.5,0],[-6.4,0.5],[-6.3,0.3],[-6.2,1.1],[-6.12,2.5],[-6.05,1.2],[-5.95,0.4],[-5.8,0.6],[-5.65,0.2],[-5.5,0.4],[-5.3,0.15],[-5.0,0.25],[-4.6,0.1],[-4.0,0.05],[-3.0,0.05],[-2.0,0.05],[-1.2,0.1],[-0.6,0.15],[0.0,0.1],[0.5,0.15],[1.0,0.1],[1.5,0.15],[2.0,0.1],[2.5,0.15],[3.0,0.05],[3.4,0]];
var c3_eg_dn = [[-6.5,0],[-6.35,0.3],[-6.2,0.5],[-6.05,0.2],[-5.9,0.6],[-5.7,0.3],[-5.5,0.5],[-5.3,0.2],[-5.0,0.3],[-4.6,0.15],[-4.0,0.1],[-3.0,0.05],[-2.0,0.05],[-1.0,0.1],[0.0,0.1],[0.6,0.2],[0.9,0.6],[1.05,0.3],[1.2,0.9],[1.35,0.4],[1.5,0.8],[1.65,0.3],[1.8,0.7],[1.95,0.2],[2.1,0.5],[2.3,0.2],[2.5,0.4],[2.7,0.2],[2.9,0.3],[3.1,0.1],[3.3,0]];
var c3_ti_up = [[-6.2,0],[-6.0,0.3],[-5.8,0.5],[-5.6,0.4],[-5.4,0.6],[-5.2,0.7],[-5.0,0.6],[-4.8,0.7],[-4.6,0.5],[-4.3,0.4],[-4.0,0.3],[-3.6,0.2],[-3.2,0.1],[-2.9,0],[1.2,0],[1.3,0.5],[1.4,1.0],[1.5,0.7],[1.6,1.3],[1.7,1.0],[1.8,2.2],[1.9,3.0],[2.0,2.3],[2.1,2.7],[2.2,1.6],[2.3,2.0],[2.4,1.2],[2.55,1.5],[2.7,0.8],[2.85,1.2],[3.0,0.6],[3.15,1.0],[3.3,0.5],[3.45,0.8],[3.6,0.3],[3.75,0.7],[3.9,0.3],[4.05,0.9],[4.2,0.4],[4.35,0.6],[4.45,0.2]];
var c3_ti_dn = [[-6.2,0],[-6.0,0.25],[-5.8,0.45],[-5.6,0.35],[-5.4,0.55],[-5.2,0.6],[-5.0,0.5],[-4.8,0.6],[-4.5,0.45],[-4.2,0.35],[-3.9,0.25],[-3.5,0.15],[-3.1,0.05],[-2.9,0],[1.2,0],[1.3,0.6],[1.4,1.2],[1.5,0.8],[1.6,1.5],[1.7,1.1],[1.8,2.4],[1.9,3.0],[2.0,2.4],[2.1,2.6],[2.2,1.5],[2.3,1.9],[2.4,1.1],[2.55,1.4],[2.7,0.8],[2.85,1.1],[3.0,0.6],[3.15,0.9],[3.3,0.4],[3.45,0.8],[3.6,0.3],[3.75,0.6],[3.9,0.3],[4.05,0.8],[4.2,0.3],[4.35,0.5],[4.45,0.2]];

// ---- (d) U = 5 eV ----
var d1_t2g_up = [[-6.4,0],[-6.2,0.2],[-6.0,0.4],[-5.8,0.6],[-5.6,0.9],[-5.45,1.1],[-5.3,1.5],[-5.15,2.2],[-5.0,2.8],[-4.85,2.4],[-4.7,1.6],[-4.55,0.9],[-4.4,0.5],[-4.2,0.35],[-3.9,0.25],[-3.5,0.2],[-3.0,0.15],[-2.5,0.2],[-2.1,0.3],[-1.9,0.4],[-1.7,0.5],[-1.5,0.35],[-1.3,0.2],[-1.0,0.1],[-0.6,0]];
var d1_t2g_dn = [[-6.4,0],[-6.2,0.2],[-6.0,0.35],[-5.8,0.5],[-5.6,0.7],[-5.4,1.0],[-5.2,1.4],[-5.0,1.9],[-4.85,2.3],[-4.7,1.7],[-4.55,1.0],[-4.4,0.6],[-4.2,0.4],[-3.9,0.3],[-3.5,0.2],[-3.0,0.15],[-2.5,0.2],[-2.1,0.4],[-1.8,0.7],[-1.5,1.0],[-1.25,1.3],[-1.05,1.0],[-0.9,0.4],[-0.7,0.1],[-0.4,0]];
var d1_eg_up = [[-6.55,0],[-6.4,0.3],[-6.25,0.6],[-6.1,0.8],[-5.95,0.5],[-5.8,0.7],[-5.65,0.4],[-5.45,0.5],[-5.2,0.3],[-4.9,0.2],[-4.6,0.3],[-4.2,0.15],[-3.8,0.2],[-3.3,0.1],[-2.8,0.15],[-2.3,0.1],[-1.8,0.15],[-1.3,0.1],[-0.8,0.05],[-0.2,0.05],[0.3,0.1],[0.45,0.4],[0.6,0.1],[0.75,0.5],[0.9,0.2],[1.05,0.45],[1.2,0.1],[1.35,0.4],[1.5,0.15],[1.65,0.5],[1.8,0.2],[1.95,0.45],[2.1,0.1],[2.25,0.5],[2.4,0.2],[2.55,0.4],[2.7,0.1],[2.85,0.3],[3.0,0]];
var d1_eg_dn = [[-6.55,0],[-6.4,0.2],[-6.2,0.35],[-6.0,0.2],[-5.8,0.4],[-5.6,0.3],[-5.4,0.5],[-5.2,0.4],[-5.0,0.7],[-4.8,0.5],[-4.6,0.3],[-4.3,0.2],[-3.9,0.15],[-3.4,0.1],[-2.8,0.1],[-2.2,0.1],[-1.6,0.1],[-1.0,0.05],[-0.2,0.05],[0.3,0.1],[0.45,0.3],[0.6,0.1],[0.75,0.45],[0.9,0.15],[1.05,0.5],[1.2,0.2],[1.35,0.4],[1.5,0.1],[1.65,0.45],[1.8,0.15],[1.95,0.5],[2.1,0.2],[2.25,0.4],[2.4,0.1],[2.55,0.35],[2.7,0.1],[2.85,0.2],[3.0,0]];
var d1_ti_up = [[-5.4,0],[-5.2,0.3],[-5.0,0.5],[-4.8,0.4],[-4.6,0.5],[-4.4,0.35],[-4.2,0.45],[-4.0,0.3],[-3.7,0.35],[-3.4,0.25],[-3.1,0.3],[-2.8,0.2],[-2.5,0.2],[-2.2,0.1],[-1.9,0],[2.4,0],[2.5,0.9],[2.6,2.2],[2.7,1.5],[2.8,3.2],[2.9,2.2],[3.0,2.8],[3.1,1.8],[3.2,2.4],[3.3,1.4],[3.4,1.8],[3.5,0.9],[3.6,1.2],[3.7,0.5],[3.8,0.7],[3.9,0.2],[4.0,0]];
var d1_ti_dn = [[-5.4,0],[-5.2,0.3],[-5.0,0.45],[-4.8,0.35],[-4.5,0.45],[-4.2,0.35],[-3.9,0.3],[-3.6,0.3],[-3.3,0.2],[-3.0,0.25],[-2.6,0.15],[-2.2,0.1],[-1.9,0],[2.4,0],[2.5,0.8],[2.6,1.9],[2.7,1.3],[2.8,2.7],[2.9,1.9],[3.0,2.5],[3.1,1.6],[3.2,2.1],[3.3,1.2],[3.4,1.6],[3.5,0.8],[3.6,1.0],[3.7,0.4],[3.8,0.6],[3.9,0.2],[4.0,0]];

var d2_t2g_up = [[-6.4,0],[-6.2,0.2],[-6.0,0.4],[-5.8,0.8],[-5.65,1.4],[-5.5,2.4],[-5.35,3.2],[-5.25,3.4],[-5.1,2.6],[-4.95,1.6],[-4.8,1.1],[-4.6,0.8],[-4.4,0.7],[-4.1,0.5],[-3.8,0.35],[-3.4,0.3],[-3.0,0.2],[-2.6,0.25],[-2.2,0.35],[-1.9,0.5],[-1.7,0.7],[-1.5,0.6],[-1.3,0.4],[-1.0,0.15],[-0.6,0]];
var d2_t2g_dn = [[-6.4,0],[-6.2,0.3],[-6.0,0.6],[-5.8,1.2],[-5.6,2.2],[-5.45,2.8],[-5.3,2.4],[-5.15,1.6],[-5.0,1.1],[-4.8,0.8],[-4.5,0.6],[-4.2,0.45],[-3.8,0.3],[-3.4,0.25],[-3.0,0.2],[-2.6,0.3],[-2.2,0.5],[-1.9,0.8],[-1.6,1.0],[-1.35,1.2],[-1.1,1.0],[-0.95,0.5],[-0.75,0.1],[-0.5,0]];
var d2_eg_up = [[-6.55,0],[-6.45,0.5],[-6.3,1.0],[-6.2,2.1],[-6.1,0.9],[-5.95,0.5],[-5.8,0.6],[-5.6,0.4],[-5.4,0.5],[-5.2,0.3],[-4.9,0.4],[-4.6,0.2],[-4.3,0.3],[-4.0,0.2],[-3.6,0.25],[-3.2,0.15],[-2.8,0.2],[-2.4,0.1],[-2.0,0.1],[-1.5,0.05],[-0.8,0.05],[0.0,0.05],[0.4,0.15],[0.55,0.4],[0.7,0.1],[0.85,0.45],[1.0,0.15],[1.15,0.4],[1.3,0.1],[1.45,0.5],[1.6,0.2],[1.75,0.45],[1.9,0.1],[2.05,0.4],[2.2,0.15],[2.35,0.3],[2.5,0]];
var d2_eg_dn = [[-6.55,0],[-6.4,0.3],[-6.2,0.5],[-6.0,0.3],[-5.8,0.5],[-5.6,0.3],[-5.4,0.45],[-5.2,0.3],[-5.0,0.5],[-4.8,0.3],[-4.6,0.4],[-4.4,0.5],[-4.25,1.2],[-4.15,0.6],[-4.0,0.3],[-3.6,0.2],[-3.2,0.15],[-2.8,0.1],[-2.2,0.1],[-1.5,0.05],[-0.5,0.05],[0.3,0.1],[0.5,0.35],[0.65,0.1],[0.8,0.4],[0.95,0.15],[1.1,0.5],[1.25,0.2],[1.4,0.45],[1.55,0.1],[1.7,0.4],[1.85,0.15],[2.0,0.5],[2.15,0.2],[2.3,0.3],[2.45,0]];
var d2_ti_up = [[-5.4,0],[-5.2,0.3],[-5.0,0.5],[-4.8,0.4],[-4.6,0.55],[-4.4,0.35],[-4.2,0.45],[-4.0,0.3],[-3.7,0.35],[-3.4,0.25],[-3.1,0.3],[-2.8,0.15],[-2.4,0.1],[-2.0,0],[2.2,0],[2.3,0.6],[2.4,1.4],[2.5,1.0],[2.6,2.0],[2.7,1.4],[2.8,2.3],[2.9,1.6],[3.0,2.1],[3.1,1.3],[3.2,1.7],[3.3,1.0],[3.4,1.3],[3.5,0.6],[3.6,0.9],[3.7,0.4],[3.8,0.6],[3.9,0.3],[4.0,0.5],[4.1,0.2],[4.2,0.4],[4.3,0.1],[4.4,0.3]];
var d2_ti_dn = [[-5.4,0],[-5.2,0.25],[-5.0,0.45],[-4.8,0.35],[-4.5,0.5],[-4.2,0.35],[-3.9,0.3],[-3.6,0.3],[-3.3,0.2],[-3.0,0.2],[-2.6,0.1],[-2.2,0],[2.2,0],[2.3,0.7],[2.4,1.6],[2.5,1.1],[2.6,2.2],[2.7,1.5],[2.8,2.3],[2.9,1.7],[3.0,2.0],[3.1,1.2],[3.2,1.6],[3.3,0.9],[3.4,1.2],[3.5,0.6],[3.6,0.8],[3.7,0.3],[3.8,0.6],[3.9,0.2],[4.0,0.4],[4.1,0.2],[4.2,0.4],[4.3,0.1],[4.4,0.2]];

var d3_t2g_up = [[-6.5,0],[-6.3,0.3],[-6.1,0.7],[-5.9,1.3],[-5.75,2.0],[-5.6,2.7],[-5.45,2.2],[-5.3,1.7],[-5.1,1.2],[-4.9,0.9],[-4.7,0.7],[-4.5,0.6],[-4.3,0.5],[-4.0,0.4],[-3.7,0.3],[-3.4,0.25],[-3.0,0.3],[-2.6,0.4],[-2.3,0.6],[-2.1,0.8],[-1.9,1.0],[-1.8,1.1],[-1.65,0.6],[-1.5,0.2],[-1.2,0.05],[-0.9,0]];
var d3_t2g_dn = [[-6.5,0],[-6.3,0.2],[-6.1,0.4],[-5.9,0.7],[-5.7,1.0],[-5.5,1.3],[-5.3,1.5],[-5.1,1.6],[-4.9,1.3],[-4.7,1.0],[-4.5,0.7],[-4.2,0.5],[-3.9,0.35],[-3.5,0.25],[-3.1,0.2],[-2.7,0.3],[-2.3,0.5],[-2.0,0.8],[-1.8,1.2],[-1.6,1.7],[-1.45,2.1],[-1.3,1.5],[-1.15,0.5],[-0.95,0.1],[-0.7,0]];
var d3_eg_up = [[-6.55,0.5],[-6.45,1.0],[-6.38,1.3],[-6.28,0.7],[-6.15,0.4],[-6.0,0.5],[-5.8,0.3],[-5.6,0.4],[-5.4,0.25],[-5.1,0.3],[-4.8,0.2],[-4.4,0.25],[-4.0,0.15],[-3.5,0.1],[-3.0,0.1],[-2.4,0.1],[-1.8,0.1],[-1.2,0.05],[-0.5,0.1],[0.0,0.15],[0.4,0.2],[0.7,0.15],[1.0,0.3],[1.3,0.2],[1.6,0.3],[1.9,0.2],[2.2,0.25],[2.5,0.1],[2.8,0]];
var d3_eg_dn = [[-6.55,0],[-6.4,0.2],[-6.2,0.4],[-6.0,0.3],[-5.8,0.45],[-5.6,0.3],[-5.4,0.35],[-5.1,0.25],[-4.8,0.3],[-4.5,0.2],[-4.1,0.15],[-3.6,0.1],[-3.0,0.05],[-2.0,0.05],[-1.0,0.05],[0.0,0.1],[0.4,0.2],[0.6,0.5],[0.75,0.3],[0.9,1.2],[1.0,0.5],[1.15,0.7],[1.3,0.3],[1.45,0.6],[1.6,0.2],[1.75,0.5],[1.9,0.2],[2.05,0.6],[2.2,0.2],[2.35,0.5],[2.5,0.15],[2.65,0.3],[2.8,0]];
var d3_ti_up = [[-6.0,0],[-5.8,0.3],[-5.6,0.5],[-5.4,0.4],[-5.2,0.55],[-5.0,0.45],[-4.8,0.5],[-4.6,0.35],[-4.3,0.4],[-4.0,0.3],[-3.7,0.25],[-3.3,0.15],[-3.0,0.1],[-2.7,0],[1.5,0],[1.6,0.6],[1.7,1.2],[1.8,0.9],[1.9,1.8],[2.0,2.5],[2.1,1.9],[2.2,2.4],[2.3,1.6],[2.4,2.3],[2.5,1.4],[2.6,1.2],[2.75,0.7],[2.9,1.0],[3.05,0.5],[3.2,0.9],[3.35,0.4],[3.5,0.8],[3.65,0.3],[3.8,0.6],[3.95,0.3],[4.1,0.7],[4.25,0.3],[4.4,0.5]];
var d3_ti_dn = [[-6.0,0],[-5.8,0.25],[-5.6,0.45],[-5.4,0.35],[-5.2,0.5],[-5.0,0.4],[-4.7,0.45],[-4.4,0.3],[-4.1,0.3],[-3.8,0.2],[-3.4,0.15],[-3.0,0.05],[-2.7,0],[1.5,0],[1.6,0.7],[1.7,1.4],[1.8,1.0],[1.9,2.0],[2.0,2.5],[2.1,1.8],[2.2,2.3],[2.3,1.5],[2.4,2.0],[2.5,1.2],[2.6,1.4],[2.75,0.8],[2.9,1.1],[3.05,0.6],[3.2,1.0],[3.35,0.5],[3.5,0.8],[3.65,0.3],[3.8,0.7],[3.95,0.3],[4.1,0.6],[4.25,0.2],[4.4,0.4]];

var d4_t2g_up = [[-6.5,0],[-6.3,0.3],[-6.1,0.5],[-5.9,0.8],[-5.7,1.2],[-5.5,1.8],[-5.35,2.5],[-5.2,2.1],[-5.05,1.6],[-4.9,1.2],[-4.7,0.9],[-4.5,0.7],[-4.3,0.55],[-4.0,0.4],[-3.7,0.3],[-3.3,0.3],[-2.9,0.4],[-2.6,0.6],[-2.3,0.8],[-2.1,1.1],[-1.95,1.3],[-1.8,1.4],[-1.65,0.8],[-1.5,0.3],[-1.2,0.05],[-0.9,0]];
var d4_t2g_dn = [[-6.5,0],[-6.3,0.2],[-6.1,0.4],[-5.9,0.6],[-5.7,0.8],[-5.5,0.9],[-5.3,1.0],[-5.1,1.0],[-4.9,0.9],[-4.7,0.8],[-4.5,0.6],[-4.2,0.45],[-3.9,0.3],[-3.5,0.25],[-3.1,0.2],[-2.7,0.3],[-2.3,0.5],[-2.0,0.8],[-1.8,1.3],[-1.65,1.8],[-1.52,2.2],[-1.4,1.6],[-1.25,0.6],[-1.05,0.1],[-0.8,0]];
var d4_eg_up = [[-6.55,0.4],[-6.45,0.8],[-6.38,1.0],[-6.28,0.5],[-6.15,0.3],[-6.0,0.45],[-5.8,0.25],[-5.6,0.35],[-5.4,0.2],[-5.1,0.3],[-4.8,0.2],[-4.4,0.2],[-4.0,0.1],[-3.5,0.1],[-3.0,0.1],[-2.4,0.05],[-1.8,0.05],[-1.0,0.05],[-0.3,0.1],[0.2,0.15],[0.6,0.2],[1.0,0.3],[1.3,0.15],[1.6,0.25],[1.9,0.1],[2.2,0.2],[2.5,0.1],[2.8,0.15],[3.1,0]];
var d4_eg_dn = [[-6.55,0],[-6.4,0.2],[-6.2,0.4],[-6.0,0.3],[-5.8,0.4],[-5.6,0.25],[-5.4,0.35],[-5.1,0.3],[-4.8,0.35],[-4.5,0.2],[-4.1,0.2],[-3.6,0.1],[-3.0,0.05],[-2.0,0.05],[-1.0,0.05],[0.0,0.1],[0.5,0.15],[0.8,0.3],[0.95,0.9],[1.05,0.4],[1.2,0.6],[1.35,0.2],[1.5,0.7],[1.65,0.3],[1.8,0.9],[1.95,0.4],[2.1,1.0],[2.25,0.4],[2.4,0.8],[2.55,0.3],[2.7,0.6],[2.85,0.2],[3.0,0.4],[3.15,0.1],[3.3,0]];
var d4_ti_up = [[-6.1,0],[-5.9,0.3],[-5.7,0.6],[-5.5,0.5],[-5.3,0.7],[-5.1,0.6],[-4.9,0.7],[-4.7,0.5],[-4.4,0.5],[-4.1,0.35],[-3.8,0.3],[-3.4,0.2],[-3.0,0.1],[-2.7,0],[1.3,0],[1.4,0.5],[1.5,1.0],[1.6,0.7],[1.7,1.4],[1.8,2.0],[1.9,1.6],[2.0,3.0],[2.1,2.2],[2.2,2.5],[2.3,1.5],[2.4,1.8],[2.5,1.1],[2.65,1.3],[2.8,0.8],[2.95,1.5],[3.1,0.9],[3.25,1.3],[3.4,0.6],[3.55,0.9],[3.7,0.4],[3.85,0.7],[4.0,0.3],[4.15,0.8],[4.3,0.3],[4.45,0.5]];
var d4_ti_dn = [[-6.1,0],[-5.9,0.25],[-5.7,0.5],[-5.5,0.4],[-5.3,0.6],[-5.0,0.5],[-4.7,0.5],[-4.4,0.35],[-4.1,0.3],[-3.7,0.2],[-3.3,0.1],[-3.0,0],[1.3,0],[1.4,0.6],[1.5,1.2],[1.6,0.9],[1.7,1.8],[1.8,2.4],[1.9,1.8],[2.0,3.0],[2.1,2.2],[2.2,2.6],[2.3,1.6],[2.4,2.0],[2.5,1.2],[2.65,1.5],[2.8,0.9],[2.95,1.3],[3.1,0.7],[3.25,1.1],[3.4,0.5],[3.55,0.8],[3.7,0.3],[3.85,0.6],[4.0,0.3],[4.15,0.7],[4.3,0.2],[4.45,0.4]];

var d5_t2g_up = [[-6.5,0],[-6.3,0.3],[-6.1,0.6],[-5.9,1.0],[-5.7,1.6],[-5.55,2.3],[-5.45,2.5],[-5.3,2.0],[-5.15,1.5],[-5.0,1.1],[-4.8,0.8],[-4.6,0.6],[-4.4,0.5],[-4.1,0.4],[-3.8,0.35],[-3.4,0.3],[-3.0,0.5],[-2.7,0.6],[-2.4,0.8],[-2.2,1.0],[-2.05,1.3],[-1.9,1.4],[-1.75,0.8],[-1.6,0.3],[-1.3,0.05],[-1.0,0]];
var d5_t2g_dn = [[-6.5,0],[-6.3,0.2],[-6.1,0.4],[-5.9,0.6],[-5.7,0.9],[-5.5,1.2],[-5.3,1.5],[-5.1,1.7],[-4.95,1.5],[-4.8,1.1],[-4.6,0.8],[-4.3,0.5],[-4.0,0.35],[-3.6,0.25],[-3.2,0.2],[-2.8,0.3],[-2.4,0.5],[-2.1,0.9],[-1.85,1.5],[-1.65,2.2],[-1.5,2.7],[-1.38,2.0],[-1.25,0.8],[-1.05,0.15],[-0.8,0]];
var d5_eg_up = [[-6.55,1.2],[-6.5,1.6],[-6.42,1.1],[-6.3,0.6],[-6.15,0.4],[-6.0,0.3],[-5.8,0.35],[-5.6,0.2],[-5.3,0.3],[-5.0,0.2],[-4.6,0.25],[-4.2,0.15],[-3.8,0.1],[-3.2,0.1],[-2.5,0.05],[-1.8,0.05],[-1.0,0.05],[0.0,0.05],[0.6,0.1],[1.0,0.2],[1.3,0.3],[1.6,0.2],[1.9,0.35],[2.2,0.2],[2.5,0.3],[2.8,0.15],[3.1,0.2],[3.3,0]];
var d5_eg_dn = [[-6.55,0],[-6.4,0.2],[-6.2,0.3],[-6.0,0.2],[-5.8,0.3],[-5.5,0.2],[-5.2,0.3],[-4.9,0.25],[-4.6,0.4],[-4.4,0.5],[-4.25,1.0],[-4.15,0.5],[-4.0,0.2],[-3.6,0.1],[-3.0,0.05],[-2.0,0.05],[-1.0,0.05],[0.0,0.1],[0.6,0.15],[0.9,0.3],[1.05,0.7],[1.2,0.4],[1.35,1.0],[1.5,0.5],[1.65,1.1],[1.8,0.6],[1.95,1.2],[2.1,0.5],[2.25,1.0],[2.4,0.4],[2.55,0.9],[2.7,0.3],[2.85,0.8],[3.0,0.3],[3.15,0.6],[3.3,0]];
var d5_ti_up = [[-6.1,0],[-5.9,0.3],[-5.7,0.5],[-5.5,0.45],[-5.3,0.6],[-5.1,0.5],[-4.9,0.6],[-4.7,0.45],[-4.4,0.45],[-4.1,0.3],[-3.8,0.3],[-3.4,0.2],[-3.0,0.1],[-2.6,0],[1.1,0],[1.2,0.4],[1.3,0.9],[1.4,0.6],[1.5,1.3],[1.6,1.0],[1.7,1.8],[1.8,1.4],[1.9,2.3],[2.0,2.5],[2.1,2.0],[2.2,2.3],[2.3,1.6],[2.4,1.9],[2.5,1.3],[2.6,1.6],[2.7,1.1],[2.8,1.4],[2.9,0.9],[3.0,1.2],[3.1,0.8],[3.2,1.0],[3.3,0.5],[3.35,0]];
var d5_ti_dn = [[-6.1,0],[-5.9,0.25],[-5.7,0.45],[-5.5,0.4],[-5.3,0.5],[-5.0,0.45],[-4.7,0.45],[-4.4,0.3],[-4.1,0.3],[-3.7,0.2],[-3.3,0.1],[-3.0,0],[1.1,0],[1.2,0.5],[1.3,1.0],[1.4,0.7],[1.5,1.4],[1.6,1.1],[1.7,1.8],[1.8,1.5],[1.9,2.2],[2.0,1.8],[2.1,2.1],[2.2,1.6],[2.3,1.9],[2.4,1.3],[2.5,1.6],[2.6,1.1],[2.7,1.4],[2.8,0.9],[2.9,1.2],[3.0,0.8],[3.1,1.0],[3.2,0.6],[3.3,0.5],[3.35,0]];

// sample labels of column (a)
var sampleLabels = ['LaSr{s|3}', '-0.50e', 'undoped', '+0.50e', 'La{s|3}Sr'];

// panel list: col, row, [up, down] for each orbital
var panels = [
  {col:0,row:0,t2g:[a1_t2g,a1_t2g],eg:[a1_eg,a1_eg],ti:[a1_ti,a1_ti]},
  {col:0,row:1,t2g:[a2_t2g,a2_t2g],eg:[a2_eg,a2_eg],ti:[a2_ti,a2_ti]},
  {col:0,row:2,t2g:[a3_t2g,a3_t2g],eg:[a3_eg,a3_eg],ti:[a3_ti,a3_ti]},
  {col:0,row:3,t2g:[a4_t2g,a4_t2g],eg:[a4_eg,a4_eg],ti:[a4_ti,a4_ti]},
  {col:0,row:4,t2g:[a5_t2g,a5_t2g],eg:[a5_eg,a5_eg],ti:[a5_ti,a5_ti]},
  {col:1,row:0,t2g:[b1_t2g_up,b1_t2g_dn],eg:[b1_eg_up,b1_eg_dn],ti:[b1_ti_up,b1_ti_dn]},
  {col:1,row:1,t2g:[b2_t2g_up,b2_t2g_dn],eg:[b2_eg_up,b2_eg_dn],ti:[b2_ti_up,b2_ti_dn]},
  {col:1,row:2,t2g:[b3_t2g_up,b3_t2g_dn],eg:[b3_eg_up,b3_eg_dn],ti:[b3_ti_up,b3_ti_dn]},
  {col:1,row:3,t2g:[b4_t2g_up,b4_t2g_dn],eg:[b4_eg_up,b4_eg_dn],ti:[b4_ti_up,b4_ti_dn]},
  {col:1,row:4,t2g:[b5_t2g_up,b5_t2g_dn],eg:[b5_eg_up,b5_eg_dn],ti:[b5_ti_up,b5_ti_dn]},
  {col:2,row:1,t2g:[c1_t2g_up,c1_t2g_dn],eg:[c1_eg_up,c1_eg_dn],ti:[c1_ti_up,c1_ti_dn]},
  {col:2,row:2,t2g:[c2_t2g_up,c2_t2g_dn],eg:[c2_eg_up,c2_eg_dn],ti:[c2_ti_up,c2_ti_dn]},
  {col:2,row:3,t2g:[c3_t2g_up,c3_t2g_dn],eg:[c3_eg_up,c3_eg_dn],ti:[c3_ti_up,c3_ti_dn]},
  {col:3,row:0,t2g:[d1_t2g_up,d1_t2g_dn],eg:[d1_eg_up,d1_eg_dn],ti:[d1_ti_up,d1_ti_dn]},
  {col:3,row:1,t2g:[d2_t2g_up,d2_t2g_dn],eg:[d2_eg_up,d2_eg_dn],ti:[d2_ti_up,d2_ti_dn]},
  {col:3,row:2,t2g:[d3_t2g_up,d3_t2g_dn],eg:[d3_eg_up,d3_eg_dn],ti:[d3_ti_up,d3_ti_dn]},
  {col:3,row:3,t2g:[d4_t2g_up,d4_t2g_dn],eg:[d4_eg_up,d4_eg_dn],ti:[d4_ti_up,d4_ti_dn]},
  {col:3,row:4,t2g:[d5_t2g_up,d5_t2g_dn],eg:[d5_eg_up,d5_eg_dn],ti:[d5_ti_up,d5_ti_dn]}
];
var lastRow = [4, 4, 3, 4];

// layout
var colLeft = [32, 204, 376, 548];
var colWidth = [140, 140, 140, 139];
var rowTop = [17.5, 73.7, 129.9, 186.1, 242.3];
var panelH = 54.5;
var FONT = 'Liberation Sans, Arial, sans-serif';
var BLUE = '#2040f0', RED = '#f01818', CYAN = '#18b2ea';

function neg(arr) {
  return arr.map(function (p) { return [p[0], -p[1]]; });
}

var dom = document.getElementById('main');
var myChart = echarts.init(dom);
var grids = [], xAxes = [], yAxes = [], series = [];

panels.forEach(function (p, i) {
  var showX = p.row === lastRow[p.col];
  grids.push({
    left: colLeft[p.col], top: rowTop[p.row], width: colWidth[p.col], height: panelH,
    show: true, borderColor: '#1a1a1a', borderWidth: 1.5, backgroundColor: '#fff'
  });
  var tick = {inside: true, length: 4, lineStyle: {color: '#111', width: 1}};
  var noLine = {show: false, onZero: false};
  xAxes.push({
    gridIndex: i, type: 'value', min: -6.55, max: 4.4, position: 'bottom',
    axisLine: noLine,
    axisTick: Object.assign({customValues: xTicks}, tick),
    axisLabel: {show: showX, customValues: xTicks, fontSize: 9.5, color: '#333', margin: 8, fontFamily: FONT},
    splitLine: {show: true, lineStyle: {color: '#b8b8b8', width: 0.8, type: [1, 2]}}
  });
  xAxes.push({
    gridIndex: i, type: 'value', min: -6.55, max: 4.4, position: 'top',
    axisLine: noLine,
    axisTick: Object.assign({customValues: xTicks}, tick),
    axisLabel: {show: false}, splitLine: {show: false}
  });
  yAxes.push({
    gridIndex: i, type: 'value', min: -4.5, max: 4.5, position: 'left',
    axisLine: noLine,
    axisTick: Object.assign({customValues: yTicks}, tick),
    axisLabel: {
      customValues: yTicks, fontSize: 8.5, color: '#333', margin: 6, fontFamily: FONT,
      formatter: function (v) { return Math.abs(v).toFixed(1); }
    },
    splitLine: {show: true, lineStyle: {color: '#b8b8b8', width: 0.8, type: [1, 2]}}
  });
  yAxes.push({
    gridIndex: i, type: 'value', min: -4.5, max: 4.5, position: 'right',
    axisLine: noLine,
    axisTick: Object.assign({customValues: yTicks}, tick),
    axisLabel: {show: false}, splitLine: {show: false}
  });

  var xi = 2 * i, yi = 2 * i;
  function line(data, color, width, z, area, smooth) {
    var s = {
      type: 'line', xAxisIndex: xi, yAxisIndex: yi, data: data,
      symbol: 'none', silent: true, z: z, smooth: smooth,
      lineStyle: {color: color, width: width}
    };
    if (area) s.areaStyle = {color: color, opacity: 1};
    return s;
  }
  series.push(line(p.ti[0], CYAN, 0.6, 2, true, false));
  series.push(line(neg(p.ti[1]), CYAN, 0.6, 2, true, false));
  series.push(line(p.eg[0], RED, 1.1, 3, false, 0.2));
  series.push(line(neg(p.eg[1]), RED, 1.1, 3, false, 0.2));
  var up = line(p.t2g[0], BLUE, 1.1, 4, false, 0.2);
  up.markLine = {
    silent: true, symbol: ['none', 'none'], label: {show: false},
    lineStyle: {color: BLUE, width: 1.6, type: 'solid'},
    data: [{yAxis: 0}]
  };
  series.push(up);
  series.push(line(neg(p.t2g[1]), BLUE, 1.1, 4, false, 0.2));
});

// texts
var graphics = [];
var richTitle = {
  n: {fontSize: 9.5, fontFamily: FONT, fill: '#222'},
  i: {fontSize: 9.5, fontFamily: FONT, fill: '#222', fontStyle: 'italic'}
};
for (var c = 0; c < 4; c++) {
  graphics.push({type: 'text', x: colLeft[c], y: 7, z: 100,
    style: {text: colTags[c], fontSize: 10, fontFamily: FONT, fill: '#222', verticalAlign: 'middle'}});
  graphics.push({type: 'text', x: colLeft[c] + colWidth[c], y: 7, z: 100,
    style: {text: '{n|Ti- and Ni-}{i|d}{n| (}{i|U}{n| = ' + colU[c] + ' eV)}', rich: richTitle,
      align: 'right', verticalAlign: 'middle'}});
  graphics.push({type: 'text', x: colLeft[c] + colWidth[c] / 2, y: 321, z: 100,
    style: {text: 'Energy (eV)', fontSize: 10, fontFamily: FONT, fill: '#333', align: 'center', verticalAlign: 'middle'}});
}
var richSample = {
  n: {fontSize: 10, fontFamily: FONT, fill: '#222'},
  s: {fontSize: 7, fontFamily: FONT, fill: '#222', padding: [6, 0, 0, 0]}
};
sampleLabels.forEach(function (t, r) {
  graphics.push({type: 'text', x: 37, y: rowTop[r] + 10.5, z: 100,
    style: {text: '{n|' + t.replace(/\{s\|(\w+)\}/g, '}{s|$1}{n|') + '}', rich: richSample, verticalAlign: 'middle'}});
});
graphics.push({type: 'text', x: 6, y: 157, rotation: Math.PI / 2, z: 100,
  style: {text: 'PDOS (Number of states / eV)', fontSize: 9.5, fontFamily: FONT, fill: '#333', align: 'center', verticalAlign: 'middle'}});

// legend inside column (b)
var richKey = {
  n: {fontSize: 9, fontFamily: FONT, fill: '#222'},
  i: {fontSize: 9, fontFamily: FONT, fill: '#222', fontStyle: 'italic'},
  s: {fontSize: 6, fontFamily: FONT, fill: '#222', padding: [5, 0, 0, 0]}
};
var keys = [
  {text: '{n|Ni }{i|t}{s|2g}', y: 62, color: BLUE, w: 1.6},
  {text: '{n|Ni }{i|e}{s|g}', y: 118, color: RED, w: 1.6},
  {text: '{n|Ti }{i|d}', y: 175, color: CYAN, w: 4}
];
keys.forEach(function (k) {
  graphics.push({type: 'text', x: 214, y: k.y, z: 100,
    style: {text: k.text, rich: richKey, verticalAlign: 'middle'}});
  graphics.push({type: 'line', z: 100, shape: {x1: 237, y1: k.y, x2: 258, y2: k.y},
    style: {stroke: k.color, lineWidth: k.w}});
});

var option = {
  animation: false,
  backgroundColor: '#fff',
  grid: grids,
  xAxis: xAxes,
  yAxis: yAxes,
  series: series,
  graphic: graphics
};
if (option && typeof option === "object") {
  myChart.setOption(option, true);
}
</script>
</body>
</html>
